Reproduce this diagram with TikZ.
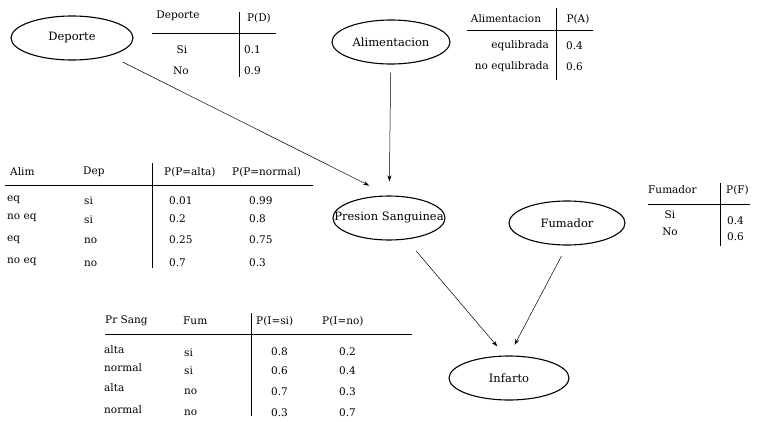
\documentclass[tikz,border=0pt]{standalone}
\usepackage{fontspec}
\setmainfont{DejaVu Serif}
\usepackage{tikz}
\usetikzlibrary{shapes.geometric, arrows.meta}

\begin{document}
\begin{tikzpicture}[x=1pt, y=-1pt, >={Stealth[length=6pt, width=4pt]},
    every node/.style={font=\fontsize{10.5}{12}\selectfont, inner sep=0pt},
    var/.style={draw, ellipse, line width=1.1pt, minimum height=44pt,
        font=\fontsize{11.5}{13}\selectfont},
    arc/.style={->, line width=0.5pt, shorten <=12pt, shorten >=12pt},
    rule/.style={line width=0.8pt}]
    \useasboundingbox (0,0) rectangle (761,421);

    % Variables of the network
    \node[var, minimum width=122pt] (dep) at (72,38) {Deporte};
    \node[var, minimum width=118pt] (alim) at (391,42) {Alimentacion};
    \node[var, minimum width=110pt, inner xsep=-15pt] (pres) at (389,218) {Presion Sanguinea};
    \node[var, minimum width=116pt] (fum) at (567,223) {Fumador};
    \node[var, minimum width=120pt] (inf) at (509,378) {Infarto};

    % Edges - parents to children
    \draw[arc, shorten <=14pt, shorten >=22pt] (dep.-25) -- (pres.north);
    \draw[arc, shorten <=8pt, shorten >=14pt] (alim) -- (pres);
    \draw[arc, shorten <=15pt] (pres.-51) -- (inf.100);
    \draw[arc] (fum.south) -- (inf.north);

    % Table P(D)
    \node (dt-h1) at (178,16) {Deporte};
    \node (dt-h2) at (259,18) {P(D)};
    \node (dt-a1) at (182,50) {Si};
    \node (dt-b1) at (181,71) {No};
    \node[anchor=west] (dt-a2) at (244,50) {0.1};
    \node[anchor=west] (dt-b2) at (244,71) {0.9};
    \draw[rule] (152,33) -- (276,33);
    \draw[rule] (239,12) -- (239,77);

    % Table P(A)
    \node (at-h1) at (506,19) {Alimentacion};
    \node (at-h2) at (578,19) {P(A)};
    \node[anchor=east] (at-a1) at (549,46) {equlibrada};
    \node[anchor=east] (at-b1) at (549,67) {no equlibrada};
    \node[anchor=west] (at-a2) at (566,46) {0.4};
    \node[anchor=west] (at-b2) at (566,67) {0.6};
    \draw[rule] (467,30) -- (593,30);
    \draw[rule] (556,8) -- (556,80);

    % Table P(P | A, D)
    \node[anchor=west] (pt-h1) at (10,172) {Alim};
    \node[anchor=west] (pt-h2) at (83,172) {Dep};
    \node[anchor=west] (pt-h3) at (164,172) {P(P=alta)};
    \node[anchor=west] (pt-h4) at (232,172) {P(P=normal)};
    \node[anchor=west] (pt-a1) at (7,200) {eq};
    \node[anchor=west] (pt-a2) at (84,201) {si};
    \node[anchor=west] (pt-a3) at (169,201) {0.01};
    \node[anchor=west] (pt-a4) at (249,201) {0.99};
    \node[anchor=west] (pt-b1) at (7,218) {no eq};
    \node[anchor=west] (pt-b2) at (84,220) {si};
    \node[anchor=west] (pt-b3) at (169,219) {0.2};
    \node[anchor=west] (pt-b4) at (249,219) {0.8};
    \node[anchor=west] (pt-c1) at (7,240) {eq};
    \node[anchor=west] (pt-c2) at (84,241) {no};
    \node[anchor=west] (pt-c3) at (169,240) {0.25};
    \node[anchor=west] (pt-c4) at (249,240) {0.75};
    \node[anchor=west] (pt-d1) at (7,262) {no eq};
    \node[anchor=west] (pt-d2) at (84,264) {no};
    \node[anchor=west] (pt-d3) at (169,263) {0.7};
    \node[anchor=west] (pt-d4) at (249,263) {0.3};
    \draw[rule] (5,185) -- (313,185);
    \draw[rule] (152,163) -- (152,268);

    % Table P(F)
    \node[anchor=west] (ft-h1) at (648,190) {Fumador};
    \node[anchor=west] (ft-h2) at (726,190) {P(F)};
    \node (ft-a1) at (670,215) {Si};
    \node (ft-b1) at (670,232) {No};
    \node[anchor=west] (ft-a2) at (727,221) {0.4};
    \node[anchor=west] (ft-b2) at (727,237) {0.6};
    \draw[rule] (648,204) -- (750,204);
    \draw[rule] (720,183) -- (720,246);

    % Table P(I | P, F)
    \node[anchor=west] (it-h1) at (105,321) {Pr Sang};
    \node[anchor=west] (it-h2) at (183,321) {Fum};
    \node[anchor=west] (it-h3) at (256,321) {P(I=si)};
    \node[anchor=west] (it-h4) at (322,321) {P(I=no)};
    \node[anchor=west] (it-a1) at (104,350) {alta};
    \node[anchor=west] (it-a2) at (184,353) {si};
    \node[anchor=west] (it-a3) at (271,352) {0.8};
    \node[anchor=west] (it-a4) at (339,352) {0.2};
    \node[anchor=west] (it-b1) at (104,368) {normal};
    \node[anchor=west] (it-b2) at (184,371) {si};
    \node[anchor=west] (it-b3) at (271,371) {0.6};
    \node[anchor=west] (it-b4) at (339,371) {0.4};
    \node[anchor=west] (it-c1) at (104,388) {alta};
    \node[anchor=west] (it-c2) at (184,392) {no};
    \node[anchor=west] (it-c3) at (271,392) {0.7};
    \node[anchor=west] (it-c4) at (339,392) {0.3};
    \node[anchor=west] (it-d1) at (104,410) {normal};
    \node[anchor=west] (it-d2) at (184,413) {no};
    \node[anchor=west] (it-d3) at (271,413) {0.3};
    \node[anchor=west] (it-d4) at (339,413) {0.7};
    \draw[rule] (105,334) -- (412,334);
    \draw[rule] (251,313) -- (251,416);
\end{tikzpicture}
\end{document}
